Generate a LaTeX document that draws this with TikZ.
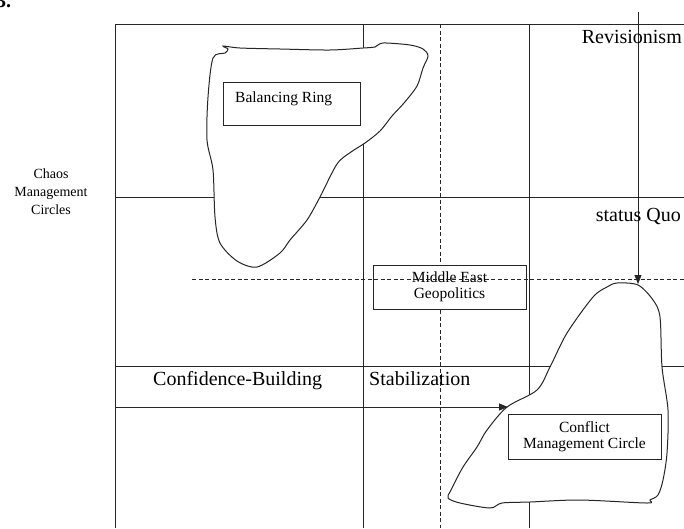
\documentclass[tikz,border=0pt]{standalone}
\usepackage{fontspec}
\setmainfont{Liberation Serif}
\usetikzlibrary{arrows.meta}
\tikzset{
  gridline/.style={line width=0.9pt, draw=black!85},
  dashline/.style={line width=0.9pt, draw=black!85, dash pattern=on 4pt off 2.5pt},
  blob/.style={line width=1pt, draw=black!85, fill=white},
  labelbox/.style={draw=black!85, line width=0.9pt, fill=white, inner sep=0pt},
  bigtext/.style={font=\fontsize{20}{24}\selectfont, inner sep=0pt},
  smalltext/.style={font=\fontsize{15.5}{16}\selectfont, inner sep=0pt, align=center},
  arrowline/.style={line width=0.9pt, draw=black!85, -{Triangle[length=9pt,width=7pt]}}
}
\begin{document}
\begin{tikzpicture}[x=1pt,y=-1pt]
\useasboundingbox (0,0) rectangle (684,528);
% partial heading number (cut off at the top, as in the reference)
\node[anchor=base west, font=\fontsize{20}{24}\bfseries\selectfont, inner sep=0pt] (num) at (-4,7) {3.};
% grid
\draw[gridline] (115,24) -- (684,24);
\draw[gridline] (115,24) -- (115,528);
\draw[gridline] (363,24) -- (363,528);
\draw[gridline] (529,24) -- (529,528);
\draw[gridline] (115,197) -- (684,197);
\draw[gridline] (115,366) -- (684,366);
% vertical dashed
\draw[dashline] (440,24) -- (440,528);
% blob 1 (Balancing Ring area)
\draw[blob] plot[smooth cycle, tension=0.5] coordinates {
 (223,46) (240,48) (280,49) (330,50) (363,48) (375,47) (383,43) (410,45) (423,49)
 (428,56) (423,68) (417,86) (404,103) (392,116) (380,131) (365,143) (351,152)
 (337,164) (320,197) (307,220) (290,240) (280,253) (257,267) (237,261) (220,243)
 (215,217) (213,170) (207,140) (208,97) (213,58) (225,53) (228,49)};
% blob 2 (Conflict Management area)
\draw[blob] plot[smooth cycle, tension=0.5] coordinates {
 (617,283) (638,285) (653,300) (660,317) (662,367) (668,410) (667,453) (663,480)
 (658,495) (650,500) (647,503) (580,500) (530,502) (502,503) (490,508) (460,503)
 (448,498) (451,490) (463,467) (477,447) (487,430) (507,407) (537,390) (550,367)
 (567,333) (593,297) (607,287)};
% boxes
\node[labelbox, minimum width=137pt, minimum height=43pt] (brbox) at (291.5,103.5) {};
\node[anchor=base west, font=\fontsize{15.5}{16}\selectfont, inner sep=0pt] (brtext) at (235,102) {Balancing Ring};
\node[labelbox, smalltext, minimum width=153pt, minimum height=44pt] (me) at (449.5,287) {Middle East\\Geopolitics};
\node[labelbox, smalltext, minimum width=153pt, minimum height=45pt] (cm) at (584.5,436.5) {Conflict\\Management Circle};
% horizontal dashed
\draw[dashline] (192,279) -- (684,279);
% arrows
\coordinate (vstart) at (638,12);
\coordinate (vend) at (638,284);
\coordinate (hstart) at (115,407);
\coordinate (hend) at (508,407);
\draw[arrowline] (vstart) -- (vend);
\draw[arrowline] (hstart) -- (hend);
% texts
\node[bigtext, anchor=base east] (rev) at (682,43) {Revisionism};
\node[bigtext, anchor=base east] (sq) at (681,221) {status Quo};
\node[bigtext, anchor=base west] (cb) at (153,385) {Confidence-Building};
\node[bigtext, anchor=base west] (st) at (369,385) {Stabilization};
\node[font=\fontsize{14}{18}\selectfont, align=center, inner sep=0pt] (chaos) at (51,192) {Chaos\\Management\\Circles};
\end{tikzpicture}
\end{document}
